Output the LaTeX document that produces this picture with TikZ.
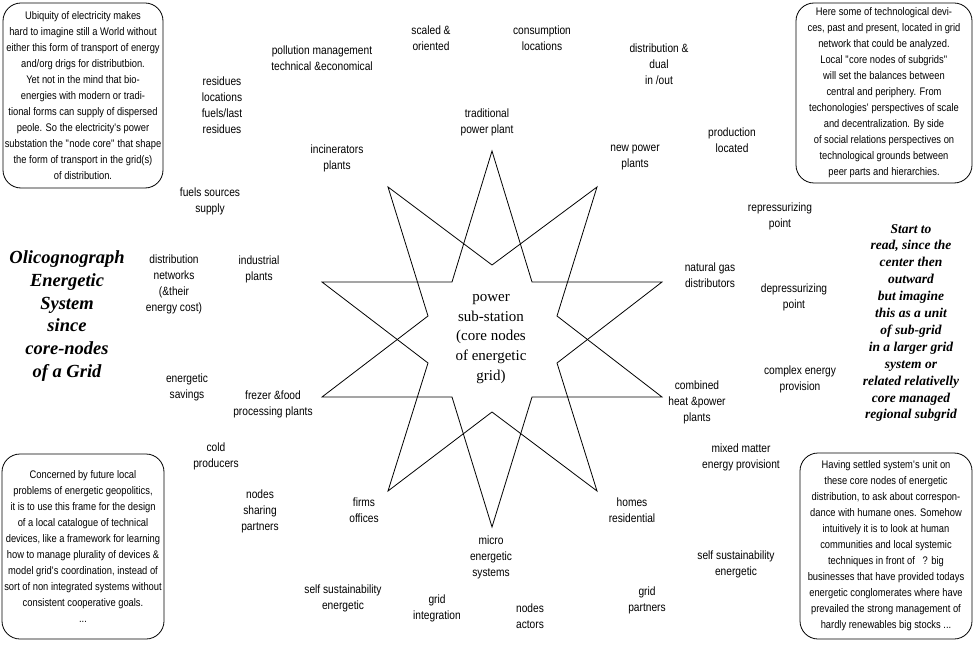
\documentclass[tikz,border=0pt]{standalone}
\usepackage{fontspec}
\usepackage{tikz}
\newfontfamily\labelfont{Liberation Sans}[FakeStretch=0.85]
\newfontfamily\serifface{Liberation Serif}
\tikzset{
  site/.style={inner sep=0pt, align=center, font=\labelfont\fontsize{12}{16}\selectfont},
  note/.style={draw, line width=0.8pt, rounded corners=18pt, inner sep=0pt, align=center,
    font=\labelfont\fontsize{11}{16}\selectfont},
  core/.style={inner sep=0pt, align=center, font=\serifface\fontsize{15}{19.7}\selectfont},
  heading/.style={inner sep=0pt, align=center, font=\serifface\bfseries\itshape\fontsize{18.5}{22.7}\selectfont},
  hint/.style={inner sep=0pt, align=center, font=\serifface\bfseries\itshape\fontsize{13.5}{16.9}\selectfont},
  star/.style={line width=0.8pt, line join=miter}
}

\begin{document}
\begin{tikzpicture}[x=1pt, y=-1pt]
  \useasboundingbox (0,0) rectangle (974,647);
  \coordinate (o1) at (492,151);
  \coordinate (o2) at (597,187);
  \coordinate (o3) at (662,282);
  \coordinate (o4) at (662,397);
  \coordinate (o5) at (597,491);
  \coordinate (o6) at (492,527);
  \coordinate (o7) at (388,491);
  \coordinate (o8) at (322,397);
  \coordinate (o9) at (322,282);
  \coordinate (o10) at (388,187);
  \coordinate (n1) at (492,265);
  \coordinate (n2) at (532,282);
  \coordinate (n3) at (557,316);
  \coordinate (n4) at (557,363);
  \coordinate (n5) at (532,397);
  \coordinate (n6) at (492,412);
  \coordinate (n7) at (452,397);
  \coordinate (n8) at (428,363);
  \coordinate (n9) at (428,316);
  \coordinate (n10) at (452,282);
  \draw[star] (o1) -- (n2) -- (o3) -- (n4) -- (o5) -- (n6) -- (o7) -- (n8) -- (o9) -- (n10) -- cycle;
  \draw[star] (o2) -- (n3) -- (o4) -- (n5) -- (o6) -- (n7) -- (o8) -- (n9) -- (o10) -- (n1) -- cycle;

  \node[core] (substation) at (491,339) {power\\sub-station\\(core nodes\\of energetic\\grid)};

  \node[site] (traditional) at (487,122) {traditional\\power plant};
  \node[site] (newpower) at (635,158) {new power\\plants};
  \node[site] (incinerators) at (337,158) {incinerators\\plants};
  \node[site] (industrial) at (259,269) {industrial\\plants};
  \node[site] (naturalgas) at (710,275) {natural gas\\distributors};
  \node[site] (freezer) at (273,404) {frezer \&food\\processing plants};
  \node[site] (chp) at (697,402) {combined\\heat \&power\\plants};
  \node[site] (firms) at (364,510) {firms\\offices};
  \node[site] (homes) at (632,510) {homes\\residential};
  \node[site] (micro) at (491,557) {micro\\energetic\\systems};

  \node[site] (pollution) at (322,58) {pollution management\\technical \&economical};
  \node[site] (scaled) at (431,38) {scaled \&\\oriented};
  \node[site] (consumption) at (542,38) {consumption\\locations};
  \node[site] (dual) at (659,64) {distribution \&\\dual\\in /out};
  \node[site] (residues) at (222,105) {residues\\locations\\fuels/last\\residues};
  \node[site] (production) at (732,140) {production\\located};
  \node[site] (fuels) at (210,201) {fuels sources\\supply};
  \node[site] (repressurizing) at (780,216) {repressurizing\\point};
  \node[site] (networks) at (174,284) {distribution\\networks\\(\&their\\energy cost)};
  \node[site] (depressurizing) at (794,297) {depressurizing\\point};
  \node[site] (complex) at (800,379) {complex energy\\provision};
  \node[site] (savings) at (187,387) {energetic\\savings};
  \node[site] (cold) at (216,456) {cold\\producers};
  \node[site] (mixed) at (741,457) {mixed matter\\energy provisiont};
  \node[site] (sharing) at (260,511) {nodes\\sharing\\partners};
  \node[site] (selfright) at (736,564) {self sustainability\\energetic};
  \node[site] (selfleft) at (343,598) {self sustainability\\energetic};
  \node[site] (integration) at (437,608) {grid\\integration};
  \node[site] (actors) at (530,616) {nodes\\actors};
  \node[site] (partners) at (647,600) {grid\\partners};

  \node[heading] (title) at (67,316) {Olicognograph\\Energetic\\System\\since\\core-nodes\\of a Grid};
  \node[hint] (reading) at (911,323) {Start to\\read, since the\\center then\\outward\\but imagine\\this as a unit\\of sub-grid\\in a larger grid\\system or\\related relativelly\\core managed\\regional subgrid};

  \node[note, minimum width=160pt, minimum height=185pt] (ubiquity) at (83,95.5)
    {Ubiquity of electricity makes\\hard to imagine still a World without\\either this form of transport of energy\\and/org drigs for distributbion.\\Yet not in the mind that bio-\\energies with modern or tradi-\\tional forms can supply of dispersed\\peole. So the electricity\textquotesingle s power\\substation the \textquotedbl node core\textquotedbl{} that shape\\the form of transport in the grid(s)\\of distribution.};
  \node[note, minimum width=176pt, minimum height=180pt] (devices) at (884,93)
    {Here some of technological devi-\\ces, past and present, located in grid\\network that could be analyzed.\\Local \textquotedbl core nodes of subgrids\textquotedbl\\will set the balances between\\central and periphery. From\\techonologies\textquotesingle{} perspectives of scale\\and decentralization. By side\\of social relations perspectives on\\technological grounds between\\peer parts and hierarchies.};
  \node[note, minimum width=162pt, minimum height=185pt] (concerned) at (83,546.5)
    {Concerned by future local\\problems of energetic geopolitics,\\it is to use this frame for the design\\of a local catalogue of technical\\devices, like a framework for learning\\how to manage plurality of devices \&\\model grid\textquotesingle s coordination, instead of\\sort of non integrated systems without\\consistent cooperative goals.\\...};
  \node[note, minimum width=172pt, minimum height=186pt] (settled) at (886,546)
    {Having settled system\textquotesingle s unit on\\these core nodes of energetic\\distribution, to ask about correspon-\\dance with humane ones. Somehow\\intuitively it is to look at human\\communities and local systemic\\techniques in front of \ \ ? big\\businesses that have provided todays\\energetic conglomerates where have\\prevailed the strong management of\\hardly renewables big stocks ...};
\end{tikzpicture}
\end{document}
